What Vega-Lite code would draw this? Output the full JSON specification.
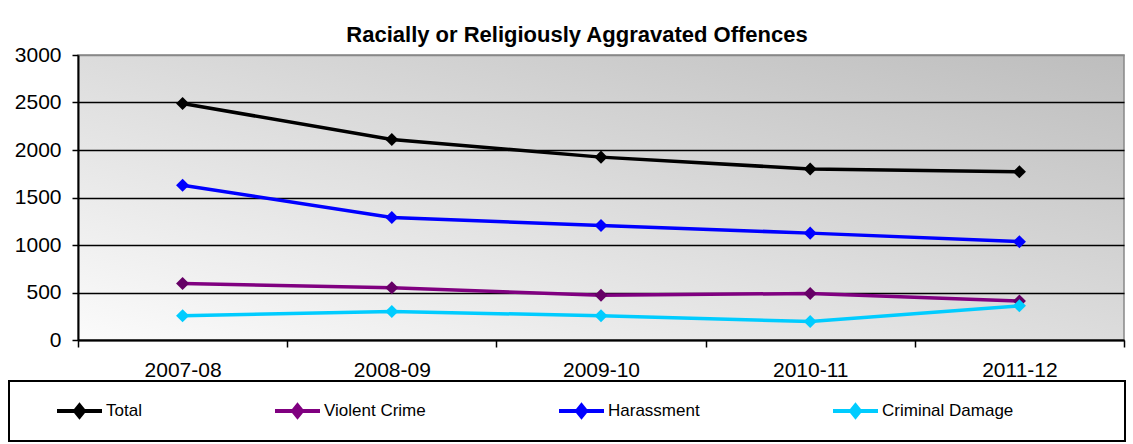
{
  "$schema": "https://vega.github.io/schema/vega-lite/v6.json",
  "width": 1046,
  "height": 285,
  "autosize": {"type": "none"},
  "padding": {"left": 78, "top": 55, "right": 9, "bottom": 104},
  "background": "white",
  "title": {
    "text": "Racially or Religiously Aggravated Offences",
    "font": "Liberation Sans",
    "fontSize": 22,
    "fontWeight": "bold",
    "color": "black",
    "anchor": "middle",
    "frame": "group",
    "dx": -24,
    "baseline": "alphabetic",
    "offset": -20
  },
  "view": {
    "fill": {
      "gradient": "linear",
      "x1": 0, "y1": 1, "x2": 1, "y2": 0,
      "stops": [
        {"offset": 0, "color": "#fbfbfb"},
        {"offset": 1, "color": "#bdbdbd"}
      ]
    },
    "stroke": "#888888",
    "strokeWidth": 1.5
  },
  "data": {
    "values": [
      {"year": "2007-08", "series": "Total", "count": 2490},
      {"year": "2008-09", "series": "Total", "count": 2110},
      {"year": "2009-10", "series": "Total", "count": 1925},
      {"year": "2010-11", "series": "Total", "count": 1800},
      {"year": "2011-12", "series": "Total", "count": 1770},
      {"year": "2007-08", "series": "Violent Crime", "count": 595},
      {"year": "2008-09", "series": "Violent Crime", "count": 550},
      {"year": "2009-10", "series": "Violent Crime", "count": 470},
      {"year": "2010-11", "series": "Violent Crime", "count": 490},
      {"year": "2011-12", "series": "Violent Crime", "count": 410},
      {"year": "2007-08", "series": "Harassment", "count": 1630},
      {"year": "2008-09", "series": "Harassment", "count": 1290},
      {"year": "2009-10", "series": "Harassment", "count": 1205},
      {"year": "2010-11", "series": "Harassment", "count": 1125},
      {"year": "2011-12", "series": "Harassment", "count": 1035},
      {"year": "2007-08", "series": "Criminal Damage", "count": 255},
      {"year": "2008-09", "series": "Criminal Damage", "count": 300},
      {"year": "2009-10", "series": "Criminal Damage", "count": 255},
      {"year": "2010-11", "series": "Criminal Damage", "count": 195},
      {"year": "2011-12", "series": "Criminal Damage", "count": 360}
    ]
  },
  "encoding": {
    "x": {
      "field": "year",
      "type": "nominal",
      "sort": null,
      "scale": {"type": "band", "paddingInner": 0, "paddingOuter": 0},
      "axis": {
        "title": null,
        "labelAngle": 0,
        "labelFont": "Liberation Sans",
        "labelFontSize": 21,
        "labelColor": "black",
        "labelPadding": 12,
        "tickBand": "extent",
        "ticks": true,
        "tickSize": 7,
        "tickWidth": 1.5,
        "tickColor": "black",
        "domainColor": "black",
        "domainWidth": 2,
        "grid": false
      }
    },
    "y": {
      "field": "count",
      "type": "quantitative",
      "scale": {"domain": [0, 3000], "nice": false},
      "axis": {
        "title": null,
        "values": [0, 500, 1000, 1500, 2000, 2500, 3000],
        "format": "d",
        "labelFont": "Liberation Sans",
        "labelFontSize": 21,
        "labelColor": "black",
        "labelPadding": 11,
        "tickSize": 6,
        "tickWidth": 1.5,
        "tickColor": "black",
        "domainColor": "black",
        "domainWidth": 2,
        "grid": true,
        "gridColor": {"condition": {"test": "datum.value == 3000", "value": "#888888"}, "value": "black"},
        "gridWidth": 1.5
      }
    }
  },
  "layer": [
    {
      "mark": {"type": "line", "strokeWidth": 3.5},
      "encoding": {
        "color": {
          "field": "series",
          "type": "nominal",
          "scale": {
            "domain": ["Total", "Violent Crime", "Harassment", "Criminal Damage"],
            "range": ["#000000", "#800080", "#0000ff", "#00ccff"]
          },
          "legend": {
            "orient": "none",
            "legendX": -69,
            "legendY": 326,
            "direction": "horizontal",
            "columns": 4,
            "gridAlign": "none",
            "columnPadding": 131,
            "padding": 21,
            "strokeColor": "black",
            "title": " ",
            "titleOrient": "left",
            "titleFontSize": 10,
            "titlePadding": 25,
            "symbolType": "M-1,0L1,0M0,-0.25L0.2,0L0,0.25L-0.2,0Z",
            "symbolSize": 2025,
            "symbolStrokeWidth": 4,
            "clipHeight": 18,
            "labelFont": "Liberation Sans",
            "labelFontSize": 17,
            "labelColor": "black",
            "labelOffset": 2,
            "labelLimit": 400,
            "labelExpr": "datum.label == 'Criminal Damage' ? datum.label + '\u00a0\u00a0\u00a0\u00a0\u00a0\u00a0\u00a0\u00a0\u00a0\u00a0\u00a0\u00a0\u00a0\u00a0\u00a0\u00a0\u00a0\u00a0\u00a0\u200b' : datum.label",
            "encode": {
              "symbols": {
                "update": {
                  "fill": {"scale": "fill", "field": "value"},
                  "stroke": {"scale": "color", "field": "value"}
                }
              },
              "legend": {
                "update": {"strokeWidth": {"value": 2}}
              }
            }
          }
        }
      }
    },
    {
      "mark": {"type": "point", "shape": "diamond", "filled": true, "size": 170, "opacity": 1},
      "encoding": {
        "fill": {
          "field": "series",
          "type": "nominal",
          "scale": {
            "domain": ["Total", "Violent Crime", "Harassment", "Criminal Damage"],
            "range": ["#000000", "#660066", "#0000ff", "#00ccff"]
          },
          "legend": null
        }
      }
    }
  ],
  "config": {"font": "Liberation Sans"}
}
